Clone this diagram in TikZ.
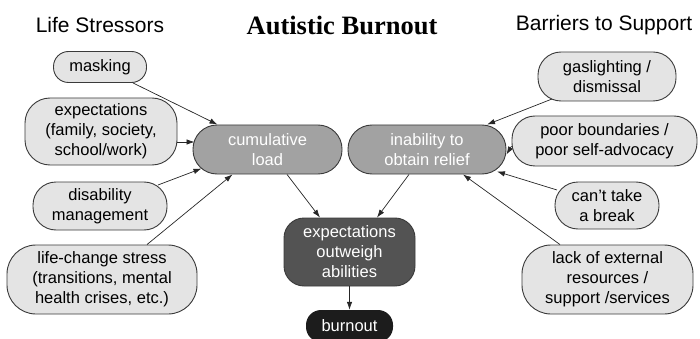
\documentclass[tikz,border=0pt]{standalone}
\usepackage{fontspec}
\setsansfont{Liberation Sans}
\newfontfamily\titlefont{Liberation Serif}
\usetikzlibrary{arrows.meta}

\definecolor{lightfill}{HTML}{E4E4E4}
\definecolor{midfill}{HTML}{A2A2A2}
\definecolor{darkfill}{HTML}{535353}
\definecolor{burnfill}{HTML}{1C1C1C}
\definecolor{edgegray}{HTML}{3A3A3A}

\begin{document}
\begin{tikzpicture}[x=1pt,y=-1pt,
  every node/.style={font=\sffamily\fontsize{16.5}{20}\selectfont, align=center, inner sep=0pt},
  heading/.style={font=\sffamily\fontsize{21}{25}\selectfont},
  stressor/.style={draw=edgegray, line width=0.9pt, fill=lightfill, rounded corners=23pt},
  midbox/.style={draw=edgegray, line width=0.9pt, fill=midfill, text=white, rounded corners=24pt},
  link/.style={-{Latex[length=8pt,width=5.5pt]}, line width=0.7pt, black!85}]
\useasboundingbox (0,0) rectangle (700,339);

% headings across the top
\node[heading] (lefthead) at (100,25) {Life Stressors};
\node[font=\titlefont\bfseries\fontsize{26.5}{30}\selectfont] (title) at (342,25) {Autistic Burnout};
\node[heading] (righthead) at (604,25) {Barriers to Support};

% life stressors, left column
\node[stressor, rounded corners=15pt, minimum width=93pt, minimum height=31pt] (mask) at (100,67) {masking};
\node[stressor, rounded corners=25pt, minimum width=152pt, minimum height=67pt] (expfam) at (101,131.5) {expectations\\(family, society,\\school/work)};
\node[stressor, minimum width=134pt, minimum height=48pt] (dis) at (100,206) {disability\\management};
\node[stressor, rounded corners=29pt, minimum width=190pt, minimum height=69pt] (life) at (102,279.5) {life-change stress\\(transitions, mental\\health crises, etc.)};

% barriers, right column
\node[stressor, minimum width=138pt, minimum height=49pt] (gas) at (607,76.5) {gaslighting /\\dismissal};
\node[stressor, minimum width=185pt, minimum height=50pt] (poor) at (604.5,141) {poor boundaries /\\poor self-advocacy};
\node[stressor, minimum width=104pt, minimum height=47pt] (cant) at (607,205.5) {can't take\\a break};
\node[stressor, rounded corners=29pt, minimum width=171pt, minimum height=69pt] (lack) at (607.5,279.5) {lack of external\\resources /\\support /services};

% middle of the diagram
\node[midbox, minimum width=149pt, minimum height=49pt] (cum) at (267.5,149.5) {cumulative\\load};
\node[midbox, minimum width=158pt, minimum height=49pt] (inab) at (427,149.5) {inability to\\obtain relief};
\node[draw=edgegray, line width=0.9pt, fill=darkfill, text=white, rounded corners=20pt,
      minimum width=131pt, minimum height=68pt] (outw) at (349.5,252) {expectations\\outweigh\\abilities};
\node[fill=burnfill, text=white, rounded corners=15pt, minimum width=87pt, minimum height=32pt] (burn) at (349.5,326) {burnout};

% arrows into cumulative load
\draw[link] ([xshift=33pt]mask.south) -- ([xshift=-50pt]cum.north);
\draw[link] ([yshift=-10.5pt]expfam.east) -- ([shift={(-73pt,7.5pt)}]cum.center);
\draw[link] ([shift={(58pt,21pt)}]dis.center) -- ([shift={(-66pt,-19pt)}]cum.center);
\draw[link] ([xshift=45pt]life.north) -- ([xshift=-35pt]cum.south);

% arrows into inability to obtain relief
\draw[link] ([shift={(-55pt,-22.5pt)}]gas.center) -- ([xshift=60pt]inab.north);
\draw[link] ([yshift=-5pt]poor.west) -- ([yshift=-5pt]inab.east);
\draw[link] ([shift={(-50pt,15.5pt)}]cant.center) -- ([shift={(70pt,-22pt)}]inab.center);
\draw[link] ([xshift=-47.5pt]lack.north) -- ([xshift=36pt]inab.south);

% down to burnout
\draw[link] ([xshift=19.5pt]cum.south) -- ([xshift=-29.5pt]outw.north);
\draw[link] ([xshift=-18pt]inab.south) -- ([xshift=27.5pt]outw.north);
\draw[link] (outw.south) -- (burn.north);
\end{tikzpicture}
\end{document}
